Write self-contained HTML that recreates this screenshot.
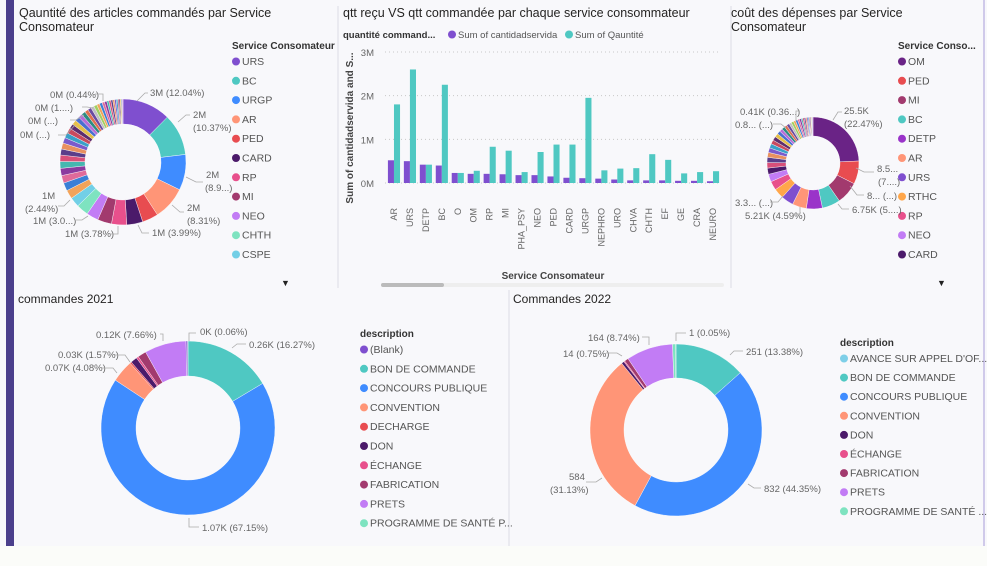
<!DOCTYPE html>
<html><head><meta charset="utf-8">
<style>
body{margin:0;width:987px;height:566px;overflow:hidden;background:#fbfcf9;font-family:"Liberation Sans",sans-serif;}
svg{position:absolute;left:0;top:0}
text{font-family:"Liberation Sans",sans-serif;}
</style></head>
<body>
<svg id="s" width="987" height="566" xmlns="http://www.w3.org/2000/svg">
<rect x="0" y="0" width="987" height="546" fill="#f8f8fb"/>
<rect x="6" y="0" width="8" height="546" fill="#4b3f8c"/>
<line x1="338" y1="6" x2="338" y2="288" stroke="#dcdce4"/>
<line x1="731" y1="6" x2="731" y2="288" stroke="#dcdce4"/>
<line x1="509" y1="290" x2="509" y2="546" stroke="#dcdce4"/>
<line x1="984" y1="0" x2="984" y2="546" stroke="#a89cd8"/>
<g id="root"></g>
</svg>
<script>
// ---------- data ----------
const d1Names=["URS","BC","URGP","AR","PED","CARD","RP","MI","NEO","CHTH","CSPE"];
const d1Main=[12.04,10.37,8.9,8.31,4.0,3.99,3.78,3.5,3.0,3.0,2.44];
const d1Small=[2.2,2.0,1.9,1.8,1.7,1.6,1.5,1.5,1.4,1.3,1.3,1.2,1.2,1.1,1.0,1.0,0.9,0.9,0.8,0.8,0.7,0.7,0.6,0.6,0.5,0.5,0.5,0.44,0.4,0.4,0.3,0.3,0.3,0.2,0.2];
const d3Names=["OM","PED","MI","BC","DETP","AR","URS","RTHC","RP","NEO","CARD"];
const d3Main=[22.47,7.5,7.3,5.9,5.2,4.59,4.0,3.3,2.9,2.5,2.0];
const d3Small=[1.8,1.7,1.6,1.5,1.4,1.3,1.3,1.2,1.1,1.0,1.0,0.9,0.9,0.8,0.8,0.7,0.7,0.6,0.6,0.5,0.5,0.45,0.41,0.4,0.35,0.3,0.3,0.25,0.2,0.2];
const barCats=["AR","URS","DETP","BC","O","OM","RP","MI","PHA_PSY","NEO","PED","CARD","URGP","NEPHRO","URO","CHVA","CHTH","EF","GE","CRA","NEURO"];
const barServed=[0.52,0.5,0.42,0.4,0.23,0.21,0.21,0.2,0.18,0.18,0.15,0.12,0.11,0.1,0.08,0.06,0.06,0.06,0.05,0.05,0.04];
const barQty=[1.8,2.6,0.42,2.25,0.23,0.28,0.83,0.74,0.25,0.71,0.88,0.88,1.95,0.29,0.33,0.34,0.66,0.53,0.22,0.25,0.27];
const yTicks=[0,1,2,3];
const yTickLabels=["0M","1M","2M","3M"];
const d21Names=["(Blank)","BON DE COMMANDE","CONCOURS PUBLIQUE","CONVENTION","DECHARGE","DON","ÉCHANGE","FABRICATION","PRETS","PROGRAMME DE SANTÉ P..."];
const d21Order=["BON DE COMMANDE","CONCOURS PUBLIQUE","CONVENTION","DECHARGE","DON","ÉCHANGE","FABRICATION","PRETS","(Blank)","PROGRAMME DE SANTÉ P..."];
const d21Vals=[16.27,67.15,4.08,0.3,1.2,0.4,1.57,7.66,0.3,0.06];
const d22Names=["AVANCE SUR APPEL D'OF...","BON DE COMMANDE","CONCOURS PUBLIQUE","CONVENTION","DON","ÉCHANGE","FABRICATION","PRETS","PROGRAMME DE SANTÉ ..."];
const d22Order=["BON DE COMMANDE","CONCOURS PUBLIQUE","CONVENTION","DON","ÉCHANGE","FABRICATION","PRETS","PROGRAMME DE SANTÉ ...","AVANCE SUR APPEL D'OF..."];
const d22Vals=[13.38,44.35,31.13,0.5,0.2,0.75,8.74,0.6,0.05];

// ---------- colors ----------
const svcColor={URS:"#7f4fcf",BC:"#4fc8c2",URGP:"#3f8cff",AR:"#ff9577",PED:"#e84c50",CARD:"#4b1a6a",RP:"#e8508c",MI:"#a23a6e",NEO:"#c27cf5",CHTH:"#7ee3c0",CSPE:"#72cfe6",OM:"#6a2386",DETP:"#9a33c9",RTHC:"#ffa64a"};
const smallPal=["#f2a35a","#3a7fd6","#e06a9a","#8b3a9f","#45b7b0","#d8507a","#5a3e8a","#e89060","#7a5acb","#3aa0c8","#c84a5e","#5e2e6e","#e6c04a","#4a6fd0","#b86cd8","#2d8c82","#e07050","#6a4aa0","#c0c0c0","#a0d060"];
const descColor={"(Blank)":"#7f4fcf","BON DE COMMANDE":"#4fc8c2","CONCOURS PUBLIQUE":"#3f8cff","CONVENTION":"#ff9577","DECHARGE":"#e84c50","DON":"#4b1a6a","ÉCHANGE":"#e8508c","FABRICATION":"#a23a6e","PRETS":"#c27cf5","PROGRAMME DE SANTÉ P...":"#7ee3c0","PROGRAMME DE SANTÉ ...":"#7ee3c0","AVANCE SUR APPEL D'OF...":"#7ecfe8"};

const NS="http://www.w3.org/2000/svg";
const root=document.getElementById('root');
function mk(tag,attrs,parent){const e=document.createElementNS(NS,tag);for(const k in attrs)e.setAttribute(k,attrs[k]);(parent||root).appendChild(e);return e;}
function txt(x,y,s,size,fill,weight,name,anchor){const t=mk('text',{x:x,y:y,'font-size':size,fill:fill,'font-weight':weight||'normal','text-anchor':anchor||'start'});t.textContent=s;


return t;}
function arcPath(cx,cy,r0,r1,a0,a1){const p=(r,a)=>[cx+r*Math.sin(a),cy-r*Math.cos(a)];const lg=(a1-a0)>Math.PI?1:0;
const A=p(r1,a0),B=p(r1,a1),C=p(r0,a1),D=p(r0,a0);
return `M${A[0]},${A[1]}A${r1},${r1} 0 ${lg} 1 ${B[0]},${B[1]}L${C[0]},${C[1]}A${r0},${r0} 0 ${lg} 0 ${D[0]},${D[1]}Z`;}
function donut(cx,cy,r0,r1,vals,cols,prefix,labels){const tot=vals.reduce((a,b)=>a+b,0);let a=0;
vals.forEach((v,i)=>{const a1=a+v/tot*2*Math.PI;const p=mk('path',{d:arcPath(cx,cy,r0,r1,a,a1),fill:cols[i],stroke:'#fff','stroke-width':0.4});


a=a1;});}
function legend(x,y,title,names,colors,step,prefix){txt(x,y,title,10,'#333','bold',prefix+'-legend-title');
names.forEach((n,i)=>{const g=mk('g',{});


mk('circle',{cx:x+4,cy:y+16+i*step-3.5,r:4,fill:colors[i]},g);
const t=mk('text',{x:x+10,y:y+16+i*step,'font-size':10.5,fill:'#555'},g);t.textContent=n;});}
function leader(pts){mk('polyline',{points:pts,fill:'none',stroke:'#aaa','stroke-width':0.8});}

// ---------- titles ----------
txt(19,17,"Qauntité des articles commandés par Service",12.5,'#252423','normal','title-quantite');
txt(19,31,"Consomateur",12.5,'#252423','normal','title-quantite-line2');
txt(343,17,"qtt reçu VS qtt commandée par chaque service consommateur",12.5,'#252423','normal','title-bar-chart');
txt(731,17,"coût des dépenses par Service",12.5,'#252423','normal','title-cout');
txt(731,31,"Consomateur",12.5,'#252423','normal','title-cout-line2');
txt(18,303,"commandes 2021",12,'#252423','normal','title-2021');
txt(513,303,"Commandes 2022",12,'#252423','normal','title-2022');

// ---------- donut 1 ----------
{const vals=d1Main.concat(d1Small);const cols=d1Names.map(n=>svcColor[n]).concat(d1Small.map((v,i)=>smallPal[i%smallPal.length]));
donut(123,162,38,63,vals,cols,'donut-quantite',d1Names);
legend(232,49,"Service Consomateur",d1Names,d1Names.map(n=>svcColor[n]),19.3,'quantite');
txt(281,286,"▼",9,'#222','normal','legend-scroll-arrow-1');
const L=[[150,96,"3M (12.04%)"],[193,118,"2M"],[193,131,"(10.37%)"],[206,178,"2M"],[205,191,"(8.9...)"],[187,211,"2M"],[187,224,"(8.31%)"],[152,236,"1M (3.99%)"],[65,237,"1M (3.78%)"],[33,224,"1M (3.0...)"],[42,199,"1M"],[25,212,"(2.44%)"],[50,98,"0M (0.44%)"],[35,111,"0M (1....)"],[28,124,"0M (...)"],[20,138,"0M (...)"]];
L.forEach((l,i)=>txt(l[0],l[1],l[2],9.5,'#666','normal','quantite-data-label-'+i));
leader("137,101 145,93 148,93");leader("178,122 186,115 190,115");leader("186,177 196,182 203,182");leader("172,205 180,212 184,212");leader("138,225 142,233 149,233");leader("118,226 118,234 110,234");leader("88,216 82,220 76,220");leader("70,200 64,206 58,206");
leader("103,101 103,94 95,94");leader("93,108 87,107 82,107");leader("84,115 76,120 70,120");leader("75,125 66,135 58,135");}

// ---------- bar chart ----------
{const x0=386,x1=721,yBase=183,yTop=52,vmax=3;
const ys=v=>yBase-(v/vmax)*(yBase-yTop);const step=(x1-x0)/barCats.length;const bw=step*0.38;
txt(343,38,"quantité command...",9.5,'#333','bold','bar-legend-title');
mk('circle',{cx:452,cy:34.5,r:4,fill:'#7f4fcf'});txt(458,38,"Sum of cantidadservida",9.5,'#555','normal','bar-legend-served');
mk('circle',{cx:569,cy:34.5,r:4,fill:'#4fc8c2'});txt(575,38,"Sum of Qauntité",9.5,'#555','normal','bar-legend-qty');
yTicks.forEach((t,i)=>{const y=ys(t);const l=mk('line',{x1:385,x2:721,y1:y,y2:y,stroke:'#c8c8c8','stroke-dasharray':'1,3'});


txt(374,y+4,yTickLabels[i],9.5,'#666','normal','y-tick-'+yTickLabels[i],'end');});
const yt=txt(0,0,"Sum of cantidadservida and S...",10,'#444','bold','y-axis-title','middle');yt.setAttribute('transform','translate(353,128) rotate(-90)');
barCats.forEach((c,i)=>{const cx=x0+step*(i+0.5);
const r1=mk('rect',{x:cx-bw,y:ys(barServed[i]),width:bw,height:yBase-ys(barServed[i]),fill:'#7f4fcf'});


const r2=mk('rect',{x:cx,y:ys(barQty[i]),width:bw,height:yBase-ys(barQty[i]),fill:'#4fc8c2'});


const t=txt(0,0,c,9,'#666','normal','x-tick-'+c.toLowerCase(),'end');t.setAttribute('transform',`translate(${cx+3},${208}) rotate(-90)`);});
txt(553,279,"Service Consomateur",10,'#444','bold','x-axis-title','middle');
const tr=mk('rect',{x:381,y:283,width:343,height:4,rx:2,fill:'#eeeeee'});
const th=mk('rect',{x:381,y:283,width:63,height:4,rx:2,fill:'#bbbbbb'});}

// ---------- donut 3 ----------
{const vals=d3Main.concat(d3Small);const cols=d3Names.map(n=>svcColor[n]).concat(d3Small.map((v,i)=>smallPal[(i+5)%smallPal.length]));
donut(813,163,27,46,vals,cols,'donut-cout',d3Names);
legend(898,49,"Service Conso...",d3Names,d3Names.map(n=>svcColor[n]),19.3,'cout');
txt(937,286,"▼",9,'#222','normal','legend-scroll-arrow-2');
const L=[[740,115,"0.41K (0.36...)"],[735,128,"0.8... (...)"],[844,114,"25.5K"],[844,127,"(22.47%)"],[877,172,"8.5..."],[878,185,"(7....)"],[867,199,"8... (...)"],[852,213,"6.75K (5....)"],[735,206,"3.3... (...)"],[745,219,"5.21K (4.59%)"]];
L.forEach((l,i)=>txt(l[0],l[1],l[2],9.5,'#666','normal','cout-data-label-'+i));
leader("833,120 838,112 842,112");leader("796,121 796,111 800,111");leader("786,128 781,124 773,124");leader("856,168 864,172 874,172");leader("850,186 857,195 864,195");leader("838,204 842,209 849,209");leader("783,196 778,202 770,202");leader("800,207 800,214 795,214");}

// ---------- donut 2021 ----------
{const cols=d21Order.map(n=>descColor[n]);
donut(188,428,52,87,d21Vals,cols,'donut-2021',d21Order);
legend(360,337,"description",d21Names,d21Names.map(n=>descColor[n]),19.3,'desc-2021');
const L=[[96,338,"0.12K (7.66%)"],[200,335,"0K (0.06%)"],[249,348,"0.26K (16.27%)"],[58,358,"0.03K (1.57%)"],[45,371,"0.07K (4.08%)"],[202,531,"1.07K (67.15%)"]];
L.forEach((l,i)=>txt(l[0],l[1],l[2],9.5,'#666','normal','d2021-data-label-'+i));
leader("163,341 163,334 160,334");leader("189,341 189,333 196,333");leader("232,348 237,344 246,344");leader("130,362 125,355 115,355");leader("117,373 113,368 101,368");leader("189,518 189,527 199,527");}

// ---------- donut 2022 ----------
{const cols=d22Order.map(n=>descColor[n]);
donut(676,430,52,86,d22Vals,cols,'donut-2022',d22Order);
legend(840,346,"description",d22Names,d22Names.map(n=>descColor[n]),19.1,'desc-2022');
const L=[[588,341,"164 (8.74%)"],[689,336,"1 (0.05%)"],[563,357,"14 (0.75%)"],[746,355,"251 (13.38%)"],[569,480,"584"],[550,493,"(31.13%)"],[764,492,"832 (44.35%)"]];
L.forEach((l,i)=>txt(l[0],l[1],l[2],9.5,'#666','normal','d2022-data-label-'+i));
leader("649,345 649,337 642,337");leader("676,341 676,333 686,333");leader("622,356 617,353 606,353");leader("730,355 734,351 743,351");leader("602,478 596,482 586,482");leader("748,484 754,488 761,488");}
</script>
</body></html>
